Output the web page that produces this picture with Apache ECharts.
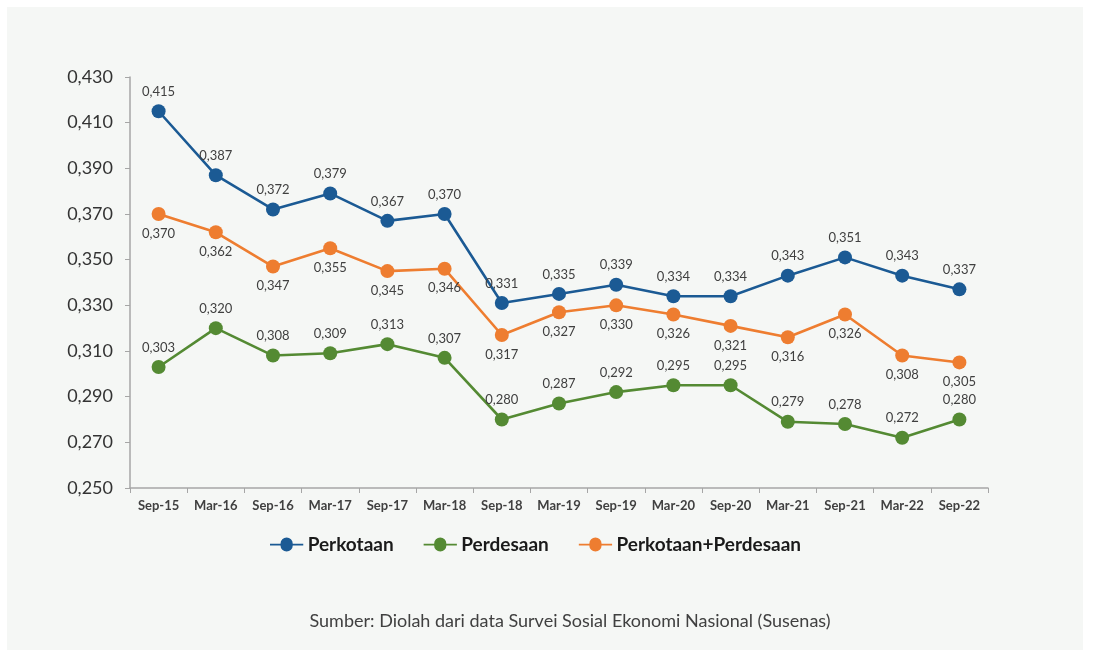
<!DOCTYPE html>
<html>
<head>
<meta charset="utf-8">
<script src="https://cdn.jsdelivr.net/npm/echarts@6/dist/echarts.min.js"></script>
<style>
html,body{margin:0;padding:0;background:#ffffff;}
#panel{position:absolute;left:7px;top:7px;width:1076px;height:643px;background:#f5f7f5;}
#chart{position:absolute;left:0;top:0;width:1093px;height:650px;}
</style>
</head>
<body>
<div id="panel"></div>
<div id="chart"></div>
<script>
const categories = ["Sep-15","Mar-16","Sep-16","Mar-17","Sep-17","Mar-18","Sep-18","Mar-19","Sep-19","Mar-20","Sep-20","Mar-21","Sep-21","Mar-22","Sep-22"];
const perkotaan = [0.415,0.387,0.372,0.379,0.367,0.370,0.331,0.335,0.339,0.334,0.334,0.343,0.351,0.343,0.337];
const perdesaan = [0.303,0.320,0.308,0.309,0.313,0.307,0.280,0.287,0.292,0.295,0.295,0.279,0.278,0.272,0.280];
const gabungan  = [0.370,0.362,0.347,0.355,0.345,0.346,0.317,0.327,0.330,0.326,0.321,0.316,0.326,0.308,0.305];
const yTicks = {min:0.25, max:0.43, interval:0.02};
const seriesNames = ["Perkotaan","Perdesaan","Perkotaan+Perdesaan"];
const sourceText = "Sumber: Diolah dari data Survei Sosial Ekonomi Nasional (Susenas)";

const fmt = v => v.toFixed(3).replace('.', ',');
const labelStyle = (pos) => ({
  show:true, position:pos, distance:6,
  fontFamily:'Lato', fontSize:13, color:'#404040',
  formatter: p => fmt(p.value)
});
function mk(name, data, color, pos){
  return {
    name, type:'line', data,
    symbol:'circle', symbolSize:14,
    lineStyle:{color, width:2.6},
    itemStyle:{color},
    label: labelStyle(pos),
    z: 3
  };
}
const chart = echarts.init(document.getElementById('chart'), null, {renderer:'canvas'});
chart.setOption({
  backgroundColor:'transparent',
  animation:false,
  grid:{left:130, right:105, top:77, bottom:162},
  xAxis:{
    type:'category', data:categories, boundaryGap:true,
    axisLine:{lineStyle:{color:'#a6a6a6', width:1.5}},
    axisTick:{show:true, alignWithLabel:false, length:5, lineStyle:{color:'#a6a6a6'}},
    axisLabel:{fontFamily:'Lato', fontWeight:'bold', fontSize:13, color:'#404040', margin:11}
  },
  yAxis:{
    type:'value', min:yTicks.min, max:yTicks.max, interval:yTicks.interval,
    axisLine:{show:true, lineStyle:{color:'#a6a6a6', width:1.5}},
    axisTick:{show:true, length:5, lineStyle:{color:'#a6a6a6'}},
    splitLine:{show:false},
    axisLabel:{fontFamily:'Lato', fontSize:18, color:'#333333', margin:17, formatter: v => fmt(v)}
  },
  legend:{
    top:530, left:265, itemGap:30, itemWidth:38, itemHeight:14,
    icon:'path://M0,6 L12,6 A7,7 0 1,1 26,6 L38,6 L38,8 L26,8 A7,7 0 1,1 12,8 L0,8 Z',
    textStyle:{fontFamily:'Lato', fontWeight:'bold', fontSize:19, color:'#1a1a1a', padding:[0,0,0,-3]},
    data:seriesNames
  },
  graphic:[{
    type:'text', x:570, y:612,
    style:{text:sourceText, textAlign:'center', fontFamily:'Lato', fontSize:18, fill:'#404040'}
  }],
  series:[
    mk(seriesNames[0], perkotaan, '#1b5a94', 'top'),
    mk(seriesNames[1], perdesaan, '#548a33', 'top'),
    mk(seriesNames[2], gabungan, '#ee7d30', 'bottom')
  ]
});
</script>
</body>
</html>
